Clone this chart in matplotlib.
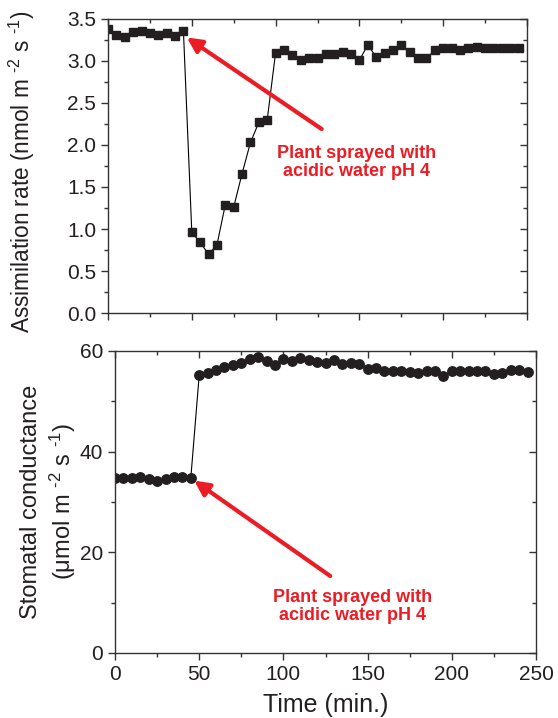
import matplotlib
matplotlib.use("Agg")
import matplotlib.pyplot as plt
from matplotlib.ticker import MultipleLocator

plt.rcParams['font.family'] = ['Liberation Sans', 'DejaVu Sans']
plt.rcParams['mathtext.fontset'] = 'custom'
plt.rcParams['mathtext.rm'] = 'Liberation Sans'
plt.rcParams['mathtext.it'] = 'Liberation Sans:italic'
plt.rcParams['mathtext.bf'] = 'Liberation Sans:bold'

# time (min.), sampled every 5 minutes
time_min = list(range(0, 250, 5))

assimilation = [3.38, 3.31, 3.28, 3.35, 3.36, 3.33, 3.31, 3.33, 3.30, 3.36,
                0.96, 0.84, 0.70, 0.81, 1.29, 1.26, 1.66, 2.03, 2.27, 2.30,
                3.10, 3.13, 3.07, 3.01, 3.04, 3.04, 3.08, 3.08, 3.11, 3.08,
                3.01, 3.19, 3.05, 3.09, 3.13, 3.19, 3.11, 3.04, 3.03, 3.13,
                3.16, 3.16, 3.13, 3.16, 3.17, 3.16, 3.16, 3.16, 3.16, 3.16]

conductance = [34.7, 34.7, 34.7, 34.9, 34.5, 34.1, 34.5, 34.9, 34.9, 34.7,
               55.2, 55.7, 56.3, 56.9, 57.3, 57.7, 58.5, 58.9, 58.1, 57.3,
               58.4, 58.1, 58.7, 58.3, 57.9, 57.7, 58.3, 57.5, 57.7, 57.5,
               56.5, 56.7, 56.1, 56.1, 56.1, 55.9, 55.7, 56.1, 56.0, 55.1,
               56.0, 56.1, 56.1, 56.1, 56.0, 55.5, 55.7, 56.3, 56.3, 55.9]

note = "Plant sprayed with\nacidic water pH 4"
red = '#ec1c24'
ink = '#231f20'

fig = plt.figure(figsize=(5.58, 7.18), dpi=100)
ax1 = fig.add_axes([108/558, 1 - 313/718, 419/558, 294/718])
ax2 = fig.add_axes([115/558, 1 - 653/718, 421/558, 302/718])


def style(ax):
    for s in ax.spines.values():
        s.set_linewidth(1.0)
        s.set_color('#333333')
    ax.tick_params(which='both', direction='out', top=True, right=True,
                   labeltop=False, labelright=False,
                   colors='#333333', labelcolor=ink, labelsize=15, width=1.0)
    ax.tick_params(which='major', length=5)
    ax.tick_params(which='minor', length=3)
    # top and right spines get inward ticks
    for t in ax.xaxis.get_major_ticks() + ax.xaxis.get_minor_ticks():
        t.tick2line.set_marker(3)
    for t in ax.yaxis.get_major_ticks() + ax.yaxis.get_minor_ticks():
        t.tick2line.set_marker(0)


# top: assimilation rate
ax1.plot(time_min, assimilation, color='black', lw=0.8, marker='s', ms=6,
         mfc=ink, mec=ink)
ax1.set_xlim(0, 250)
ax1.set_ylim(0, 3.5)
ax1.xaxis.set_major_locator(MultipleLocator(50))
ax1.xaxis.set_minor_locator(MultipleLocator(25))
ax1.yaxis.set_major_locator(MultipleLocator(0.5))
ax1.yaxis.set_minor_locator(MultipleLocator(0.25))
ax1.yaxis.set_major_formatter(plt.FormatStrFormatter('%.1f'))
style(ax1)
ax1.tick_params(labelbottom=False)
ax1.set_ylabel(r"Assimilation rate (nmol m $^{\text{-2}}$ s $^{\text{-1}}$)",
               fontsize=16.3, color=ink)
ax1.yaxis.set_label_coords(-0.169, 0.48)
ax1.annotate('', xy=(47.0, 3.28), xytext=(127.5, 2.19),
             arrowprops=dict(arrowstyle='-|>', color=red, lw=3, mutation_scale=22,
                             shrinkA=0, shrinkB=0))
ax1.text(148.4, 1.79, note, color=red, fontsize=13, fontweight='bold',
         ha='center', va='center', linespacing=1.1)

# bottom: stomatal conductance
ax2.plot(time_min, conductance, color='black', lw=0.8, marker='o', ms=6.8,
         mfc=ink, mec=ink)
ax2.set_xlim(0, 250)
ax2.set_ylim(0, 60)
ax2.xaxis.set_major_locator(MultipleLocator(50))
ax2.xaxis.set_minor_locator(MultipleLocator(25))
ax2.yaxis.set_major_locator(MultipleLocator(20))
ax2.yaxis.set_minor_locator(MultipleLocator(10))
style(ax2)
ax2.set_ylabel("Stomatal conductance\n(\u03bcmol m $^{\\text{-2}}$ s $^{\\text{-1}}$)",
               fontsize=17, color=ink, linespacing=1.25)
ax2.yaxis.set_label_coords(-0.088, 0.5)
ax2.set_xlabel("Time (min.)", fontsize=18, color=ink, labelpad=6.5)
ax2.annotate('', xy=(47.0, 34.25), xytext=(127.8, 15.3),
             arrowprops=dict(arrowstyle='-|>', color=red, lw=3, mutation_scale=22,
                             shrinkA=0, shrinkB=0))
ax2.text(141, 9.2, note, color=red, fontsize=13, fontweight='bold',
         ha='center', va='center', linespacing=1.1)

fig.savefig("out.png", dpi=100)
